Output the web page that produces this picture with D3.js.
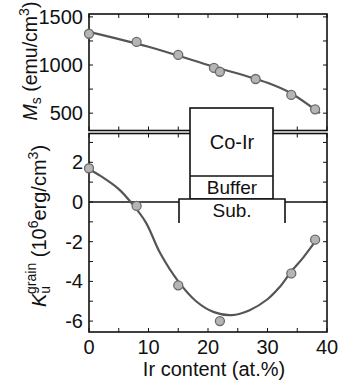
<!DOCTYPE html>
<html>
<head>
<meta charset="utf-8">
<script src="https://cdn.jsdelivr.net/npm/d3@7"></script>
<style>
  body { margin: 0; background: #fff; }
  text { font-family: Arial, "Liberation Sans", sans-serif; fill: #111; }
</style>
</head>
<body>
<div id="chart"></div>
<script>
// Ir content (at.%) for the Ms points
const msX = [0, 8, 15, 21, 22, 28, 34, 38];
const msY = [1325, 1240, 1105, 970, 930, 855, 690, 540];
// fit line drawn through the Ms points
const msFitX = [0, 10, 20, 30, 34, 38.8];
const msFitY = [1345, 1190, 1000, 815, 705, 500];

// Ku grain points
const kuX = [0, 8, 15, 22, 34, 38];
const kuY = [1.7, -0.2, -4.2, -6.0, -3.6, -1.9];
// guide curve through the Ku points
const kuFitX = [0, 2, 5, 7, 9.5, 12, 15, 18, 21, 24, 27, 30, 32, 34, 36, 38];
const kuFitY = [1.65, 1.3, 0.65, 0, -1.0, -2.6, -4.0, -5.0, -5.55, -5.7, -5.45, -4.9, -4.3, -3.5, -2.8, -2.0];

const xTicks = [0, 10, 20, 30, 40];
const msTicks = [500, 1000, 1500];
const kuTicks = [-6, -4, -2, 0, 2];

const W = 342, H = 381;
const svg = d3.select('#chart').append('svg')
    .attr('width', W)
    .attr('height', H);

const x = d3.scaleLinear().domain([0, 40]).range([89, 327]);
const yMs = d3.scaleLinear().domain([320, 1530]).range([130.5, 14]);
const yKu = d3.scaleLinear().domain([-6.55, 3.45]).range([332, 133.5]);

//draws a framed panel with inward ticks on all four sides
function panel(y, yMajor, yMinorStep, showX) {
    const [y0, y1] = y.range();
    const g = svg.append('g');
    const tl = 4;
    const xs = d3.range(0, 40.01, 5);
    xs.forEach(v => {
        g.append('line').attr('x1', x(v)).attr('x2', x(v))
            .attr('y1', y0).attr('y2', y0 - tl).attr('stroke', '#111');
        g.append('line').attr('x1', x(v)).attr('x2', x(v))
            .attr('y1', y1).attr('y2', y1 + tl).attr('stroke', '#111');
    });
    const d = y.domain();
    const ys = d3.range(Math.ceil(d[0] / yMinorStep) * yMinorStep, d[1], yMinorStep);
    ys.forEach(v => {
        g.append('line').attr('x1', x(0)).attr('x2', x(0) + tl)
            .attr('y1', y(v)).attr('y2', y(v)).attr('stroke', '#111');
        g.append('line').attr('x1', x(40)).attr('x2', x(40) - tl)
            .attr('y1', y(v)).attr('y2', y(v)).attr('stroke', '#111');
    });
    g.append('rect')
        .attr('x', x(0)).attr('y', y1)
        .attr('width', x(40) - x(0)).attr('height', y0 - y1)
        .attr('fill', 'none').attr('stroke', '#111').attr('stroke-width', 1.6);
    g.selectAll('.yl').data(yMajor).enter().append('text')
        .attr('x', x(0) - 6).attr('y', d => y(d) + 7)
        .attr('text-anchor', 'end').attr('font-size', 20)
        .text(d => d);
    if (showX) {
        g.selectAll('.xl').data(xTicks).enter().append('text')
            .attr('x', d => x(d)).attr('y', y0 + 22)
            .attr('text-anchor', 'middle').attr('font-size', 20)
            .text(d => d);
    }
    return g;
}

panel(yMs, msTicks, 250, false);
panel(yKu, kuTicks, 1, true);

// zero line
svg.append('line')
    .attr('x1', x(0)).attr('x2', x(40))
    .attr('y1', yKu(0)).attr('y2', yKu(0))
    .attr('stroke', '#111').attr('stroke-width', 1.3);

const line = d3.line().curve(d3.curveCatmullRom);

svg.append('path')
    .attr('d', line(msFitX.map((v, i) => [x(v), yMs(msFitY[i])])))
    .attr('fill', 'none').attr('stroke', '#555').attr('stroke-width', 2.2);
svg.append('path')
    .attr('d', line(kuFitX.map((v, i) => [x(v), yKu(kuFitY[i])])))
    .attr('fill', 'none').attr('stroke', '#555').attr('stroke-width', 2.2);

svg.selectAll('.ms').data(msX).enter().append('circle')
    .attr('cx', d => x(d)).attr('cy', (d, i) => yMs(msY[i]))
    .attr('r', 4.5).attr('fill', '#b5b5b5').attr('stroke', '#6a6a6a').attr('stroke-width', 1.3);
svg.selectAll('.ku').data(kuX).enter().append('circle')
    .attr('cx', d => x(d)).attr('cy', (d, i) => yKu(kuY[i]))
    .attr('r', 4.5).attr('fill', '#b5b5b5').attr('stroke', '#6a6a6a').attr('stroke-width', 1.3);

// inset schematic: Co-Ir / Buffer / Sub.
const ins = svg.append('g');
ins.append('rect').attr('x', 190).attr('y', 108).attr('width', 83).attr('height', 91)
    .attr('fill', '#fff').attr('stroke', '#111').attr('stroke-width', 1.6);
ins.append('line').attr('x1', 190).attr('x2', 273).attr('y1', 176).attr('y2', 176)
    .attr('stroke', '#111').attr('stroke-width', 1.6);
ins.append('rect').attr('x', 179).attr('y', 199).attr('width', 106).attr('height', 24)
    .attr('fill', '#fff').attr('stroke', 'none');
ins.append('path').attr('d', 'M179,223V199H285V223')
    .attr('fill', 'none').attr('stroke', '#111').attr('stroke-width', 1.6);
ins.append('text').attr('x', 232).attr('y', 149).attr('text-anchor', 'middle')
    .attr('font-size', 20).text('Co-Ir');
ins.append('text').attr('x', 232).attr('y', 194).attr('text-anchor', 'middle')
    .attr('font-size', 19).text('Buffer');
ins.append('text').attr('x', 232).attr('y', 217).attr('text-anchor', 'middle')
    .attr('font-size', 19).text('Sub.');

// x label
svg.append('text').attr('x', 214).attr('y', 376).attr('text-anchor', 'middle')
    .attr('font-size', 20).text('Ir content (at.%)');

// y labels
const lm = svg.append('text')
    .attr('transform', 'translate(37,61) rotate(-90)')
    .attr('text-anchor', 'middle').attr('font-size', 19.5);
lm.append('tspan').attr('font-style', 'italic').text('M');
lm.append('tspan').attr('font-size', 14).attr('dy', 4).text('s');
lm.append('tspan').attr('dy', -4).text(' (emu/cm');
lm.append('tspan').attr('font-size', 14).attr('dy', -8).text('3');
lm.append('tspan').attr('dy', 8).text(')');

const lk = svg.append('text')
    .attr('transform', 'translate(46,226) rotate(-90)')
    .attr('text-anchor', 'middle').attr('font-size', 20);
lk.append('tspan').attr('font-style', 'italic').text('K');
lk.append('tspan').attr('font-size', 14).attr('dy', 4).text('u');
lk.append('tspan').attr('font-size', 14).attr('dx', -8).attr('dy', -14).text('grain');
lk.append('tspan').attr('dy', 10).text(' (10');
lk.append('tspan').attr('font-size', 14).attr('dy', -8).text('6');
lk.append('tspan').attr('dy', 8).text('erg/cm');
lk.append('tspan').attr('font-size', 14).attr('dy', -8).text('3');
lk.append('tspan').attr('dy', 8).text(')');
</script>
</body>
</html>
